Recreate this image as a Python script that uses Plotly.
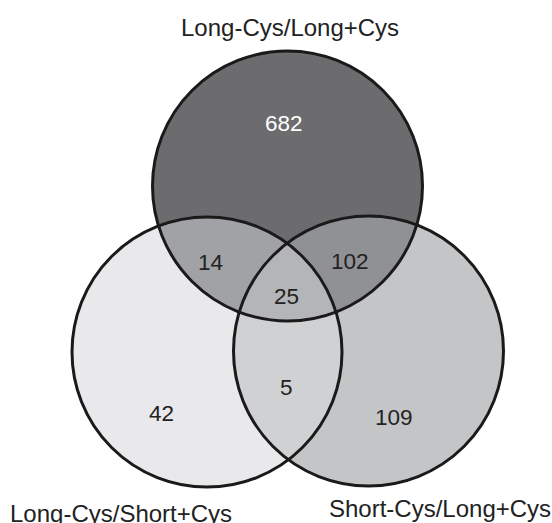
import numpy as np
import plotly.graph_objects as go

# ---- data ----
set_names = ["Long-Cys/Long+Cys", "Long-Cys/Short+Cys", "Short-Cys/Long+Cys"]
region_keys = ["T", "L", "R", "TL", "TR", "LR", "TLR"]
region_counts = [682, 42, 109, 14, 102, 5, 25]

# ---- layout / geometry (pixel coordinates) ----
W, H = 552, 523
circles = {
    "T": (287.5, 186.0, 135.0),
    "L": (207.0, 352.0, 135.0),
    "R": (368.5, 351.0, 135.0),
}
region_colors = {
    "T": "#6c6c6e", "L": "#e9e9eb", "R": "#c4c5c7",
    "TL": "#a1a2a5", "TR": "#909194", "LR": "#d0d1d3", "TLR": "#b4b5b8",
}
label_pos = {
    "T": (283.5, 123), "L": (161.5, 413), "R": (393.5, 417),
    "TL": (210, 262), "TR": (350, 261), "LR": (286, 387), "TLR": (286, 296),
}
set_label_pos = [(289.5, 27), (121, 513), (440, 508)]


def inside(px, py, key):
    cx, cy, r = circles[key]
    return (px - cx) ** 2 + (py - cy) ** 2 <= r * r + 1e-6


def intersection_path(keys, n=720):
    pts = []
    for k in keys:
        cx, cy, r = circles[k]
        t = np.linspace(0, 2 * np.pi, n, endpoint=False)
        xs, ys = cx + r * np.cos(t), cy + r * np.sin(t)
        for x, y in zip(xs, ys):
            if all(inside(x, y, o) for o in keys if o != k):
                pts.append((x, y))
    pts = np.array(pts)
    mx, my = pts.mean(axis=0)
    ang = np.arctan2(pts[:, 1] - my, pts[:, 0] - mx)
    pts = pts[np.argsort(ang)]
    return "M " + " L ".join(f"{x:.2f},{y:.2f}" for x, y in pts) + " Z"


shapes = []
for k in ["L", "R", "T"]:
    cx, cy, r = circles[k]
    shapes.append(dict(type="circle", xref="x", yref="y", x0=cx - r, x1=cx + r,
                       y0=cy - r, y1=cy + r, fillcolor=region_colors[k],
                       line=dict(width=0), layer="below"))
for key in ["LR", "TL", "TR", "TLR"]:
    shapes.append(dict(type="path", xref="x", yref="y", path=intersection_path(list(key)),
                       fillcolor=region_colors[key], line=dict(width=0), layer="below"))
for k in ["L", "R", "T"]:
    cx, cy, r = circles[k]
    shapes.append(dict(type="circle", xref="x", yref="y", x0=cx - r, x1=cx + r,
                       y0=cy - r, y1=cy + r, fillcolor="rgba(0,0,0,0)",
                       line=dict(color="#1a1a1a", width=3), layer="above"))

FONT = "Liberation Sans, Arial, sans-serif"
annotations = []
for key, cnt in zip(region_keys, region_counts):
    x, y = label_pos[key]
    annotations.append(dict(x=x, y=y, xref="x", yref="y", text=str(cnt), showarrow=False,
                            font=dict(size=22.5, color="#ffffff" if key == "T" else "#222222",
                                      family=FONT),
                            xanchor="center", yanchor="middle"))
for name, (x, y) in zip(set_names, set_label_pos):
    annotations.append(dict(x=x, y=y, xref="x", yref="y", text=name, showarrow=False,
                            font=dict(size=24, color="#222222", family=FONT),
                            xanchor="center", yanchor="middle"))

fig = go.Figure()
fig.add_trace(go.Scatter(x=[0, W], y=[0, H], mode="markers",
                         marker=dict(opacity=0), hoverinfo="skip", showlegend=False))
fig.update_layout(
    width=W, height=H, margin=dict(l=0, r=0, t=0, b=0),
    paper_bgcolor="white", plot_bgcolor="white",
    xaxis=dict(range=[0, W], visible=False, fixedrange=True),
    yaxis=dict(range=[H, 0], visible=False, fixedrange=True),
    shapes=shapes, annotations=annotations, showlegend=False,
)
fig.write_html("out.html", config={"displayModeBar": False},
               post_script="document.body.style.margin='0';document.body.style.overflow='hidden';")
